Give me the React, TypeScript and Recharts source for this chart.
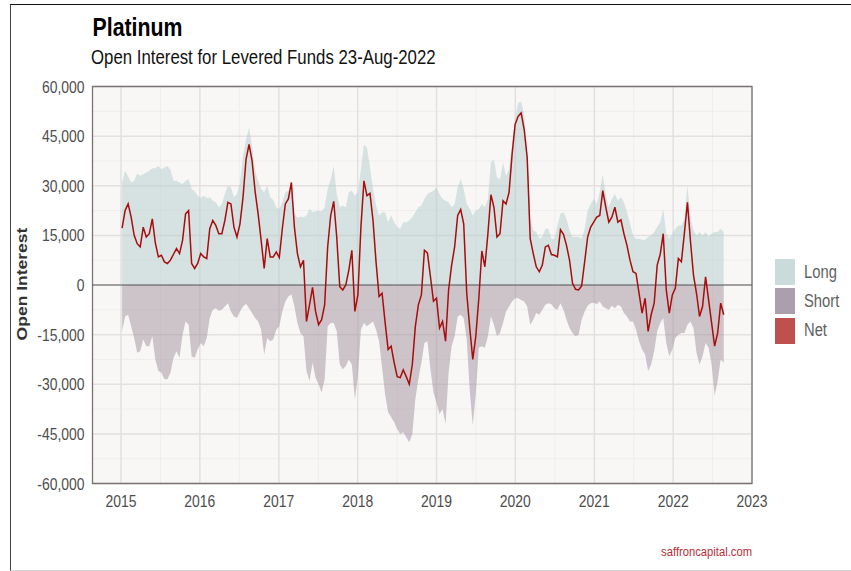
import React from "react";
import {
  ComposedChart,
  Area,
  Line,
  XAxis,
  YAxis,
  CartesianGrid,
  ReferenceLine,
  ReferenceArea,
  Legend,
} from "recharts";

// ---------- data (bi-weekly CFTC readings, 06-Jan-2015 .. 23-Aug-2022) ----------
const START_DATE = "2015-01-06";
const STEP_DAYS = 14;

const LONG: number[] = [
  31000, 34500, 32800, 31000, 31500, 33700, 33000, 33500, 34000, 34500,
  35300, 35300, 36000, 35000, 35500, 36000, 34800, 31500, 31500, 31000,
  30500, 31500, 32000, 29000, 28300, 27000, 26300, 27000, 26300, 26500,
  25500, 25000, 23500, 24500, 27500, 30000, 29500, 26500, 27500, 31000,
  39000, 44000, 47500, 42000, 34500, 31500, 29000, 28000, 30000, 26500,
  25700, 23500, 23000, 25000, 28000, 28500, 28500, 21500, 20300, 20700,
  20500, 21000, 23000, 22000, 22300, 22500, 22300, 23500, 29000, 32000,
  36000, 27500, 23500, 24000, 23500, 28000, 28500, 27000, 28000, 35000,
  42500, 41500, 35500, 29000, 24000, 21000, 22000, 22000, 19000, 21000,
  19000, 17500, 17000, 19000, 19000, 19500, 20500, 22000, 23500, 24000,
  26000, 27500, 28000, 28500, 29500, 27500, 26000, 25500, 25000, 23500,
  24500, 29500, 32000, 29000, 24500, 23000, 21000, 22500, 23000, 24500,
  23500, 26000, 37000, 38000, 32500, 32000, 37000, 33000, 35000, 43000,
  50000, 55000, 55500, 51500, 40000, 20500, 16500, 16000, 14000, 14500,
  17000, 17000, 14000, 14000, 18000, 21500, 22000, 20000, 16500, 14500,
  14500, 14500, 14000, 17000, 22500, 24500, 26000, 24500, 28000, 33500,
  27000, 23500, 26000, 27500, 25500, 26500, 25000, 22000, 18500, 15000,
  14000, 14000, 13700, 13700, 14500, 15000, 16000, 17500, 19000, 23000,
  15500, 14000, 15500, 17000, 18000, 18000, 20000, 30000, 20500, 16500,
  15000, 16000, 15000, 16000, 14500, 15500, 16000, 16000, 17000, 16000,
];

const SHORT: number[] = [
  -14000, -9500, -9000, -12500, -16000, -20500, -20000, -16500, -18500, -18500,
  -15500, -22500, -26000, -26500, -28500, -28500, -26500, -22000, -20000, -22000,
  -15000, -11000, -12000, -21500, -22000, -19500, -17500, -18500, -16000, -10000,
  -7500, -7000, -7800, -7500, -6500, -5500, -8000, -9500, -10000, -8000,
  -6500, -5700, -7000, -8500, -10000, -11000, -13500, -21000, -16000, -17000,
  -16500, -13500, -12500, -8000, -5000, -3500, -2800, -6500, -11500, -14500,
  -15500, -26000, -29000, -23500, -28000, -30000, -32500, -28500, -12500, -11500,
  -11500, -14000, -24000, -25500, -24500, -22500, -24000, -34500, -27500, -13500,
  -11500, -12500, -11700, -11000, -13500, -17000, -25000, -33000, -38500, -40000,
  -41500, -43500, -45000, -44500, -46000, -47500, -45000, -34500, -28500, -23500,
  -17500, -17000, -25500, -32500, -35500, -39000, -37500, -42000, -26500, -18500,
  -15500, -9500, -9000, -10000, -16500, -32000, -42500, -33000, -19000, -18500,
  -19000, -15500, -9500, -12000, -15500, -14500, -11500, -8000, -6500, -5000,
  -4000, -4000, -4500, -5000, -6500, -12000, -10500, -8500, -9000, -7500,
  -6000, -5500, -5800, -7000, -7500, -5500, -7500, -10500, -13000, -14500,
  -15500, -15000, -10500, -8000, -6300, -5500, -5400, -5800, -5000, -6500,
  -7000, -7500, -6300, -7000, -6000, -6500, -8500, -9500, -11000, -11000,
  -13500, -17000, -19500, -21000, -26000, -24000, -20000, -14000, -11500, -10000,
  -17500, -21500, -19500, -16000, -15000, -14500, -14500, -12000, -11000, -13000,
  -20500, -24000, -21500, -17500, -19000, -24000, -33500, -29000, -22500, -23500,
];

const NET: number[] = [
  17200, 22500, 24500, 20500, 15000, 12500, 11500, 17500, 14500, 15500,
  20000, 12700, 8500, 9000, 7000, 6500, 7500, 9300, 11000, 9500,
  13500, 21500, 22500, 6500, 5000, 6500, 9500, 8500, 8000, 17000,
  19500, 18000, 15500, 15500, 19500, 25000, 24500, 17500, 14500, 18500,
  26500, 38000, 42500, 37500, 28300, 21500, 13500, 5000, 14000, 8500,
  8500, 10000, 8300, 17000, 24500, 26000, 31000, 17500, 9500, 5500,
  7500, -11000, -6000, -700, -8000, -12000, -10500, -6000, 11500, 21000,
  25300, 14500, -500, -1500, 0, 4500, 10500, -8000, -3000, 17500,
  31500, 27000, 27700, 19500, 7000, -3500, -2500, -11300, -19500, -18500,
  -23500, -27700, -28000, -25700, -27700, -30000, -24000, -12500, -6000, -3000,
  10500, 9700, 2500, -4900, -4000, -13000, -11000, -17000, -1500, 6000,
  11500, 21000, 22800, 18500, -2500, -13000, -22500, -15500, -4000, 10300,
  5500, 15500, 27300, 23500, 14500, 15500, 25500, 24500, 28000, 39500,
  48500, 51000, 52000, 47000, 38500, 14000, 9500, 5500, 4000, 6000,
  11500, 12000, 9200, 9000, 8500, 16700, 15300, 12000, 7500, 500,
  -1300, -1500, -300, 7000, 14500, 17500, 19000, 20500, 21000, 28500,
  23500, 19000, 20500, 23500, 19000, 19700, 15500, 12000, 7500, 4000,
  3500, -2500, -8500, -4000, -14000, -9000, -5500, 6000, 9300, 15500,
  -1500, -8500, -3000, -1000, 8000, 7000, 15700, 25000, 13300, 3000,
  -2500, -9500, -6500, 2500, -4500, -11500, -18500, -14500, -5500, -9000,
];

const YEAR_TICKS: number[] = [2015, 2016, 2017, 2018, 2019, 2020, 2021, 2022, 2023];
const MINOR_YEARS: number[] = [2015.5, 2016.5, 2017.5, 2018.5, 2019.5, 2020.5, 2021.5, 2022.5];
const Y_TICKS: number[] = [-60000, -45000, -30000, -15000, 0, 15000, 30000, 45000, 60000];
const Y_MINOR: number[] = [-52500, -37500, -22500, -7500, 7500, 22500, 37500, 52500];

const SERIES_NAMES = { long: "Long", short: "Short", net: "Net" };
const LEGEND_ORDER = ["Long", "Short", "Net"];
const LEGEND_SWATCH: Record<string, string> = {
  Long: "#c9dcdb",
  Short: "#aa9faa",
  Net: "#c0504d",
};

const TITLE = "Platinum";
const SUBTITLE = "Open Interest for Levered Funds 23-Aug-2022";
const Y_TITLE = "Open Interest";
const FOOTER = "saffroncapital.com";

// ---------- helpers ----------
const DAY = 86400000;
const startMs = Date.parse(START_DATE + "T00:00:00Z");
const yearMs = (y: number) => {
  const whole = Math.floor(y);
  const a = Date.UTC(whole, 0, 1);
  const b = Date.UTC(whole + 1, 0, 1);
  return a + (y - whole) * (b - a);
};

const data = NET.map((n, i) => ({
  t: startMs + i * STEP_DAYS * DAY,
  long: LONG[i],
  short: SHORT[i],
  net: n,
}));

const X_MIN = yearMs(2015) - 132 * DAY;
const X_MAX = yearMs(2023);
const X_TICKS = YEAR_TICKS.map(yearMs);
const X_MINOR = MINOR_YEARS.map(yearMs);

const SQ = 0.82; // horizontal squeeze of the reference typography
const FONT = "'Liberation Sans', Arial, Helvetica, sans-serif";

const fmtNum = (v: number) => {
  const s = Math.abs(v).toLocaleString("en-US");
  return v < 0 ? "-" + s : s;
};

const XTick = (props: any) => {
  const { x, y, payload } = props;
  return (
    <g transform={`translate(${x},${y}) scale(${SQ},1)`}>
      <text x={0} y={0} dy="0.71em" textAnchor="middle" fontSize={17} fill="#4d4d4d" fontFamily={FONT}>
        {new Date(payload.value).getUTCFullYear()}
      </text>
    </g>
  );
};

const YTick = (props: any) => {
  const { x, y, payload } = props;
  return (
    <g transform={`translate(${x},${y}) scale(${SQ},1)`}>
      <text x={0} y={0} dy="0.355em" textAnchor="end" fontSize={17} fill="#4d4d4d" fontFamily={FONT}>
        {fmtNum(payload.value)}
      </text>
    </g>
  );
};

const LegendContent = (props: any) => {
  const payload: any[] = (props.payload || []).slice();
  payload.sort((a, b) => LEGEND_ORDER.indexOf(a.value) - LEGEND_ORDER.indexOf(b.value));
  return (
    <div style={{ fontFamily: FONT }}>
      {payload.map((e) => (
        <div key={e.value} style={{ display: "flex", alignItems: "center", height: 29.3 }}>
          <div style={{ width: 20, height: 26, background: LEGEND_SWATCH[e.value] }} />
          <span
            style={{
              marginLeft: 8.5,
              fontSize: 18,
              color: "#5f5f5f",
              display: "inline-block",
              transform: `scaleX(${SQ})`,
              transformOrigin: "left center",
              whiteSpace: "nowrap",
            }}
          >
            {e.value}
          </span>
        </div>
      ))}
    </div>
  );
};

export default function App() {
  return (
    <div
      style={{
        position: "absolute",
        left: 0,
        top: 0,
        width: 851,
        height: 571,
        background: "#ffffff",
        fontFamily: FONT,
        overflow: "hidden",
      }}
    >
      <div
        style={{
          position: "absolute",
          left: 10,
          top: 4,
          width: 841,
          height: 566.5,
          boxSizing: "border-box",
          borderTop: "1.6px solid #111",
          borderLeft: "1px solid #444",
          borderBottom: "1px solid #d6d6d6",
        }}
      />
      <div style={{ position: "absolute", left: 0, top: 0 }}>
        <ComposedChart
          width={851}
          height={571}
          data={data}
          margin={{ top: 86.5, right: 99, left: 0, bottom: 57.5 }}
        >
          <CartesianGrid
            fill="#f8f7f6"
            stroke="#efedec"
            strokeWidth={1}
            horizontalValues={Y_MINOR}
            verticalValues={X_MINOR}
          />
          <CartesianGrid
            stroke="#e3e0df"
            strokeWidth={1.5}
            horizontalValues={Y_TICKS}
            verticalValues={X_TICKS}
          />
          <XAxis
            dataKey="t"
            type="number"
            domain={[X_MIN, X_MAX]}
            allowDataOverflow
            ticks={X_TICKS}
            tick={<XTick />}
            axisLine={false}
            tickLine={false}
            tickMargin={5}
            height={30}
            interval={0}
          />
          <YAxis
            type="number"
            domain={[-60000, 60000]}
            allowDataOverflow
            ticks={Y_TICKS}
            tick={<YTick />}
            axisLine={false}
            tickLine={false}
            width={92.5}
            interval={0}
          />
          <Area
            type="linear"
            dataKey="long"
            name={SERIES_NAMES.long}
            baseValue={0}
            stroke="none"
            fill="#b2cdcc"
            fillOpacity={0.5}
            isAnimationActive={false}
            legendType="square"
          />
          <Area
            type="linear"
            dataKey="short"
            name={SERIES_NAMES.short}
            baseValue={0}
            stroke="none"
            fill="#a2919e"
            fillOpacity={0.5}
            isAnimationActive={false}
            legendType="square"
          />
          <ReferenceLine y={0} stroke="#5a5a5a" strokeWidth={1.2} ifOverflow="visible" />
          <Line
            type="linear"
            dataKey="net"
            name={SERIES_NAMES.net}
            stroke="#a80c0c"
            strokeWidth={1.5}
            dot={false}
            activeDot={false}
            isAnimationActive={false}
            legendType="square"
          />
          <ReferenceArea
            x1={X_MIN}
            x2={X_MAX}
            y1={-60000}
            y2={60000}
            fill="none"
            fillOpacity={0}
            stroke="#7b7373"
            strokeWidth={1.3}
            ifOverflow="visible"
          />
          <Legend
            layout="vertical"
            align="center"
            verticalAlign="middle"
            content={<LegendContent />}
            wrapperStyle={{ left: 775, top: 257.5, width: 76, height: 90 }}
          />
        </ComposedChart>
      </div>
      <svg
        width={851}
        height={571}
        style={{ position: "absolute", left: 0, top: 0, pointerEvents: "none" }}
      >
        <text
          transform={`translate(92.5,36) scale(${SQ},1)`}
          fontSize={26}
          fontWeight="bold"
          fill="#000"
          fontFamily={FONT}
        >
          {TITLE}
        </text>
        <text
          transform={`translate(91,64) scale(${SQ},1)`}
          fontSize={20.5}
          fill="#111"
          fontFamily={FONT}
        >
          {SUBTITLE}
        </text>
        <text
          transform={`translate(26.5,284) scale(${SQ},1) rotate(-90)`}
          fontSize={17.5}
          fontWeight="bold"
          textAnchor="middle"
          fill="#333"
          fontFamily={FONT}
        >
          {Y_TITLE}
        </text>
        <text
          transform={`translate(752,556) scale(${SQ},1)`}
          fontSize={13.7}
          textAnchor="end"
          fill="#b82e36"
          fontFamily={FONT}
        >
          {FOOTER}
        </text>
      </svg>
    </div>
  );
}
